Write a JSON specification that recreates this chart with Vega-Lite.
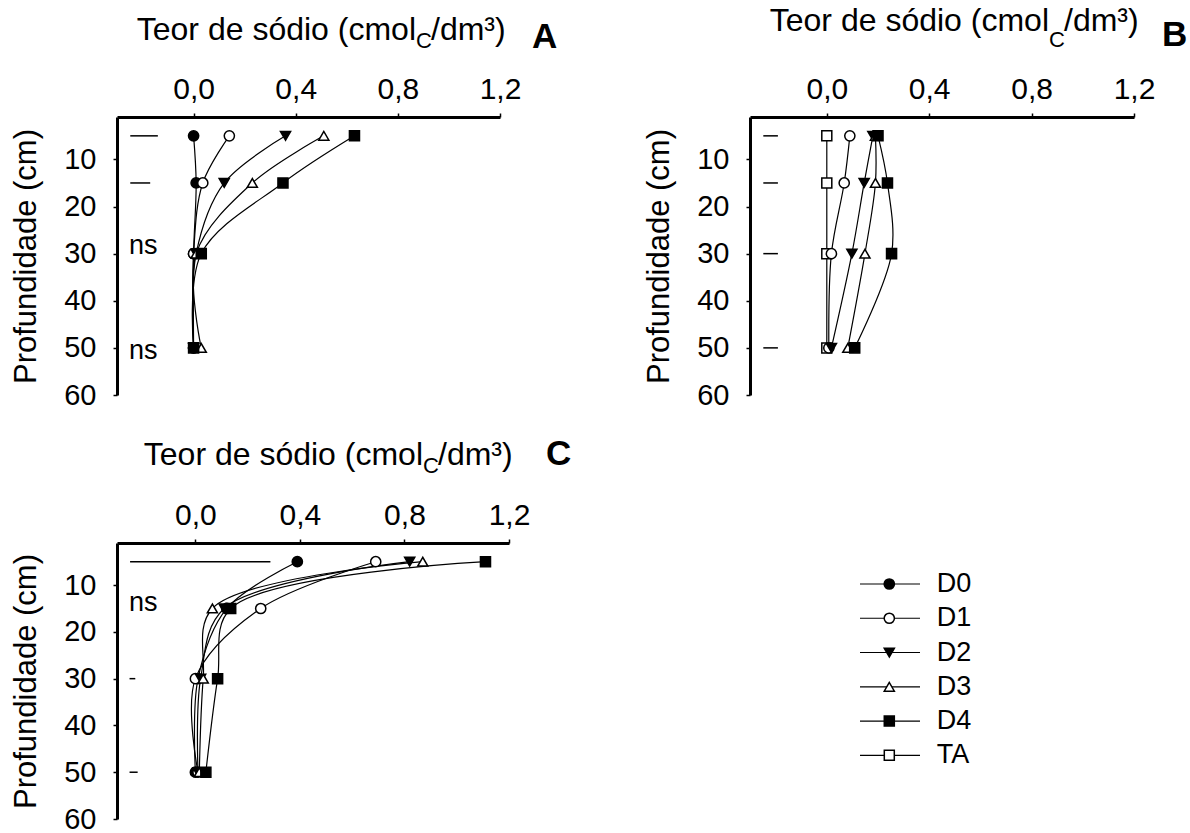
{
  "$schema": "https://vega.github.io/schema/vega-lite/v6.json",
  "padding": {"left": 10, "top": 5, "right": 2, "bottom": 2},
  "background": "white",
  "bounds": "flush",
  "columns": 2,
  "spacing": {"row": 148, "column": 241},
  "config": {
    "view": {"stroke": null},
    "font": "Liberation Sans",
    "text": {"color": "black"},
    "axis": {"domainColor": "black", "tickColor": "black", "labelColor": "black", "titleColor": "black", "grid": false, "labelFont": "Liberation Sans", "titleFont": "Liberation Sans"}
  },
  "datasets": {
    "A": [
      {"serie": "D0", "prof": 5, "teor": 0.0}, {"serie": "D0", "prof": 15, "teor": 0.01}, {"serie": "D0", "prof": 30, "teor": 0.0}, {"serie": "D0", "prof": 50, "teor": 0.0},
      {"serie": "D1", "prof": 5, "teor": 0.14}, {"serie": "D1", "prof": 15, "teor": 0.036}, {"serie": "D1", "prof": 30, "teor": 0.0}, {"serie": "D1", "prof": 50, "teor": 0.0},
      {"serie": "D2", "prof": 5, "teor": 0.36}, {"serie": "D2", "prof": 15, "teor": 0.12}, {"serie": "D2", "prof": 30, "teor": 0.01}, {"serie": "D2", "prof": 50, "teor": 0.0},
      {"serie": "D3", "prof": 5, "teor": 0.51}, {"serie": "D3", "prof": 15, "teor": 0.23}, {"serie": "D3", "prof": 30, "teor": 0.01}, {"serie": "D3", "prof": 50, "teor": 0.03},
      {"serie": "D4", "prof": 5, "teor": 0.63}, {"serie": "D4", "prof": 15, "teor": 0.35}, {"serie": "D4", "prof": 30, "teor": 0.03}, {"serie": "D4", "prof": 50, "teor": 0.0}
    ],
    "B": [
      {"serie": "TA", "prof": 5, "teor": 0.0}, {"serie": "TA", "prof": 15, "teor": 0.0}, {"serie": "TA", "prof": 30, "teor": 0.0}, {"serie": "TA", "prof": 50, "teor": 0.0},
      {"serie": "D1", "prof": 5, "teor": 0.09}, {"serie": "D1", "prof": 15, "teor": 0.068}, {"serie": "D1", "prof": 30, "teor": 0.018}, {"serie": "D1", "prof": 50, "teor": 0.008},
      {"serie": "D2", "prof": 5, "teor": 0.18}, {"serie": "D2", "prof": 15, "teor": 0.146}, {"serie": "D2", "prof": 30, "teor": 0.098}, {"serie": "D2", "prof": 50, "teor": 0.018},
      {"serie": "D3", "prof": 5, "teor": 0.19}, {"serie": "D3", "prof": 15, "teor": 0.19}, {"serie": "D3", "prof": 30, "teor": 0.149}, {"serie": "D3", "prof": 50, "teor": 0.082},
      {"serie": "D4", "prof": 5, "teor": 0.2}, {"serie": "D4", "prof": 15, "teor": 0.237}, {"serie": "D4", "prof": 30, "teor": 0.253}, {"serie": "D4", "prof": 50, "teor": 0.109}
    ],
    "C": [
      {"serie": "D0", "prof": 5, "teor": 0.39}, {"serie": "D0", "prof": 15, "teor": 0.12}, {"serie": "D0", "prof": 30, "teor": 0.01}, {"serie": "D0", "prof": 50, "teor": 0.0},
      {"serie": "D1", "prof": 5, "teor": 0.69}, {"serie": "D1", "prof": 15, "teor": 0.25}, {"serie": "D1", "prof": 30, "teor": 0.0}, {"serie": "D1", "prof": 50, "teor": 0.01},
      {"serie": "D2", "prof": 5, "teor": 0.82}, {"serie": "D2", "prof": 15, "teor": 0.11}, {"serie": "D2", "prof": 30, "teor": 0.02}, {"serie": "D2", "prof": 50, "teor": 0.01},
      {"serie": "D3", "prof": 5, "teor": 0.87}, {"serie": "D3", "prof": 15, "teor": 0.065}, {"serie": "D3", "prof": 30, "teor": 0.03}, {"serie": "D3", "prof": 50, "teor": 0.015},
      {"serie": "D4", "prof": 5, "teor": 1.11}, {"serie": "D4", "prof": 15, "teor": 0.135}, {"serie": "D4", "prof": 30, "teor": 0.085}, {"serie": "D4", "prof": 50, "teor": 0.04}
    ],
    "barrasA": [{"prof": 5, "teor": -0.248, "teor2": -0.14}, {"prof": 15, "teor": -0.248, "teor2": -0.17}],
    "barrasB": [{"prof": 5, "teor": -0.248, "teor2": -0.191}, {"prof": 15, "teor": -0.248, "teor2": -0.191}, {"prof": 30, "teor": -0.248, "teor2": -0.191}, {"prof": 50, "teor": -0.248, "teor2": -0.191}],
    "barrasC": [{"prof": 5, "teor": -0.25, "teor2": 0.287}, {"prof": 30, "teor": -0.252, "teor2": -0.23}, {"prof": 50, "teor": -0.252, "teor2": -0.221}],
    "notasA": [{"prof": 28.4, "teor": -0.253, "txt": "ns"}, {"prof": 50.7, "teor": -0.253, "txt": "ns"}],
    "notasC": [{"prof": 13.8, "teor": -0.254, "txt": "ns"}],
    "legenda": [{"serie": "D0"}, {"serie": "D1"}, {"serie": "D2"}, {"serie": "D3"}, {"serie": "D4"}, {"serie": "TA"}]
  },
  "concat": [
    {
      "width": 383,
      "height": 278,
      "layer": [
        {"data": {"name": "A"}, "mark": {"type": "line", "interpolate": "catmull-rom", "color": "black", "strokeWidth": 1.2},
          "encoding": {
            "x": {"field": "teor", "type": "quantitative", "scale": {"domain": [-0.3, 1.2], "nice": false, "zero": false},
              "axis": {"orient": "top", "values": [0, 0.4, 0.8, 1.2], "labelExpr": "replace(format(datum.value, '.1f'), '.', ',')", "title": null, "domainWidth": 3, "tickWidth": 1.5, "tickSize": 4, "labelFontSize": 30, "labelPadding": 9, "labelFlush": false, "labelOverlap": false}},
            "y": {"field": "prof", "type": "quantitative", "scale": {"domain": [1, 60], "reverse": true, "nice": false, "zero": false},
              "axis": {"values": [10, 20, 30, 40, 50, 60], "title": "Profundidade (cm)", "titleFontSize": 31, "titleFontWeight": "normal", "titlePadding": 21, "labelFontSize": 29, "labelPadding": 17, "tickSize": 4, "tickWidth": 1.5, "domainWidth": 3, "labelFlush": false, "labelOverlap": false}},
            "detail": {"field": "serie"}, "order": {"field": "prof", "type": "quantitative"}}},
        {"data": {"name": "A"}, "mark": {"type": "point", "filled": true, "stroke": "black", "strokeWidth": 1.5, "opacity": 1},
          "encoding": {
            "x": {"field": "teor", "type": "quantitative"},
            "y": {"field": "prof", "type": "quantitative"},
            "shape": {"field": "serie", "type": "nominal", "scale": {"domain": ["D0", "D1", "D2", "D3", "D4", "TA"], "range": ["circle", "circle", "triangle-down", "triangle-up", "square", "square"]}, "legend": null},
            "fill": {"field": "serie", "type": "nominal", "scale": {"domain": ["D0", "D1", "D2", "D3", "D4", "TA"], "range": ["black", "white", "black", "white", "black", "white"]}, "legend": null},
            "size": {"field": "serie", "type": "nominal", "scale": {"domain": ["D0", "D1", "D2", "D3", "D4", "TA"], "range": [105, 100, 170, 145, 125, 100]}, "legend": null}}},
        {"data": {"name": "barrasA"}, "mark": {"type": "rule", "color": "black", "strokeWidth": 1.5},
          "encoding": {"x": {"field": "teor", "type": "quantitative"}, "x2": {"field": "teor2"}, "y": {"field": "prof", "type": "quantitative"}}},
        {"data": {"name": "notasA"}, "mark": {"type": "text", "align": "left", "baseline": "middle", "fontSize": 27, "color": "black"},
          "encoding": {"x": {"field": "teor", "type": "quantitative"}, "y": {"field": "prof", "type": "quantitative"}, "text": {"field": "txt"}}},
        {"data": {"values": [{"t": "Teor de sódio (cmol"}]}, "mark": {"type": "text", "align": "right", "baseline": "alphabetic", "fontSize": 32, "color": "black", "clip": false},
          "encoding": {"x": {"datum": 0.871, "type": "quantitative"}, "y": {"datum": -15.34, "type": "quantitative"}, "text": {"field": "t"}}},
        {"data": {"values": [{"t": "C"}]}, "mark": {"type": "text", "align": "left", "baseline": "alphabetic", "fontSize": 22, "color": "black", "clip": false},
          "encoding": {"x": {"datum": 0.871, "type": "quantitative"}, "y": {"datum": -13.64, "type": "quantitative"}, "text": {"field": "t"}}},
        {"data": {"values": [{"t": "/dm³)"}]}, "mark": {"type": "text", "align": "left", "baseline": "alphabetic", "fontSize": 32, "dx": 15, "color": "black", "clip": false},
          "encoding": {"x": {"datum": 0.871, "type": "quantitative"}, "y": {"datum": -15.34, "type": "quantitative"}, "text": {"field": "t"}}},
        {"data": {"values": [{"t": "A"}]}, "mark": {"type": "text", "align": "left", "baseline": "alphabetic", "fontSize": 35, "fontWeight": "bold", "color": "black", "clip": false},
          "encoding": {"x": {"datum": 1.325, "type": "quantitative"}, "y": {"datum": -13.64, "type": "quantitative"}, "text": {"field": "t"}}}
      ]
    },
    {
      "width": 384,
      "height": 278,
      "layer": [
        {"data": {"name": "B"}, "mark": {"type": "line", "interpolate": "catmull-rom", "color": "black", "strokeWidth": 1.2},
          "encoding": {
            "x": {"field": "teor", "type": "quantitative", "scale": {"domain": [-0.3, 1.2], "nice": false, "zero": false},
              "axis": {"orient": "top", "values": [0, 0.4, 0.8, 1.2], "labelExpr": "replace(format(datum.value, '.1f'), '.', ',')", "title": null, "domainWidth": 3, "tickWidth": 1.5, "tickSize": 4, "labelFontSize": 30, "labelPadding": 9, "labelFlush": false, "labelOverlap": false}},
            "y": {"field": "prof", "type": "quantitative", "scale": {"domain": [1, 60], "reverse": true, "nice": false, "zero": false},
              "axis": {"values": [10, 20, 30, 40, 50, 60], "title": "Profundidade (cm)", "titleFontSize": 31, "titleFontWeight": "normal", "titlePadding": 21, "labelFontSize": 29, "labelPadding": 17, "tickSize": 4, "tickWidth": 1.5, "domainWidth": 3, "labelFlush": false, "labelOverlap": false}},
            "detail": {"field": "serie"}, "order": {"field": "prof", "type": "quantitative"}}},
        {"data": {"name": "B"}, "mark": {"type": "point", "filled": true, "stroke": "black", "strokeWidth": 1.5, "opacity": 1},
          "encoding": {
            "x": {"field": "teor", "type": "quantitative"},
            "y": {"field": "prof", "type": "quantitative"},
            "shape": {"field": "serie", "type": "nominal", "scale": {"domain": ["D0", "D1", "D2", "D3", "D4", "TA"], "range": ["circle", "circle", "triangle-down", "triangle-up", "square", "square"]}, "legend": null},
            "fill": {"field": "serie", "type": "nominal", "scale": {"domain": ["D0", "D1", "D2", "D3", "D4", "TA"], "range": ["black", "white", "black", "white", "black", "white"]}, "legend": null},
            "size": {"field": "serie", "type": "nominal", "scale": {"domain": ["D0", "D1", "D2", "D3", "D4", "TA"], "range": [105, 100, 170, 145, 125, 100]}, "legend": null}}},
        {"data": {"name": "barrasB"}, "mark": {"type": "rule", "color": "black", "strokeWidth": 1.5},
          "encoding": {"x": {"field": "teor", "type": "quantitative"}, "x2": {"field": "teor2"}, "y": {"field": "prof", "type": "quantitative"}}},
        {"data": {"values": [{"t": "Teor de sódio (cmol"}]}, "mark": {"type": "text", "align": "right", "baseline": "alphabetic", "fontSize": 32, "color": "black", "clip": false},
          "encoding": {"x": {"datum": 0.868, "type": "quantitative"}, "y": {"datum": -17.25, "type": "quantitative"}, "text": {"field": "t"}}},
        {"data": {"values": [{"t": "C"}]}, "mark": {"type": "text", "align": "left", "baseline": "alphabetic", "fontSize": 22, "color": "black", "clip": false},
          "encoding": {"x": {"datum": 0.868, "type": "quantitative"}, "y": {"datum": -13.9, "type": "quantitative"}, "text": {"field": "t"}}},
        {"data": {"values": [{"t": "/dm³)"}]}, "mark": {"type": "text", "align": "left", "baseline": "alphabetic", "fontSize": 32, "dx": 15, "color": "black", "clip": false},
          "encoding": {"x": {"datum": 0.868, "type": "quantitative"}, "y": {"datum": -17.25, "type": "quantitative"}, "text": {"field": "t"}}},
        {"data": {"values": [{"t": "B"}]}, "mark": {"type": "text", "align": "left", "baseline": "alphabetic", "fontSize": 35, "fontWeight": "bold", "color": "black", "clip": false},
          "encoding": {"x": {"datum": 1.309, "type": "quantitative"}, "y": {"datum": -14.07, "type": "quantitative"}, "text": {"field": "t"}}}
      ]
    },
    {
      "width": 392,
      "height": 276,
      "layer": [
        {"data": {"name": "C"}, "mark": {"type": "line", "interpolate": "catmull-rom", "color": "black", "strokeWidth": 1.2},
          "encoding": {
            "x": {"field": "teor", "type": "quantitative", "scale": {"domain": [-0.3, 1.2], "nice": false, "zero": false},
              "axis": {"orient": "top", "values": [0, 0.4, 0.8, 1.2], "labelExpr": "replace(format(datum.value, '.1f'), '.', ',')", "title": null, "domainWidth": 3, "tickWidth": 1.5, "tickSize": 4, "labelFontSize": 30, "labelPadding": 9, "labelFlush": false, "labelOverlap": false}},
            "y": {"field": "prof", "type": "quantitative", "scale": {"domain": [1, 60], "reverse": true, "nice": false, "zero": false},
              "axis": {"values": [10, 20, 30, 40, 50, 60], "title": "Profundidade (cm)", "titleFontSize": 31, "titleFontWeight": "normal", "titlePadding": 21, "labelFontSize": 29, "labelPadding": 17, "tickSize": 4, "tickWidth": 1.5, "domainWidth": 3, "labelFlush": false, "labelOverlap": false}},
            "detail": {"field": "serie"}, "order": {"field": "prof", "type": "quantitative"}}},
        {"data": {"name": "C"}, "mark": {"type": "point", "filled": true, "stroke": "black", "strokeWidth": 1.5, "opacity": 1},
          "encoding": {
            "x": {"field": "teor", "type": "quantitative"},
            "y": {"field": "prof", "type": "quantitative"},
            "shape": {"field": "serie", "type": "nominal", "scale": {"domain": ["D0", "D1", "D2", "D3", "D4", "TA"], "range": ["circle", "circle", "triangle-down", "triangle-up", "square", "square"]}, "legend": null},
            "fill": {"field": "serie", "type": "nominal", "scale": {"domain": ["D0", "D1", "D2", "D3", "D4", "TA"], "range": ["black", "white", "black", "white", "black", "white"]}, "legend": null},
            "size": {"field": "serie", "type": "nominal", "scale": {"domain": ["D0", "D1", "D2", "D3", "D4", "TA"], "range": [105, 100, 170, 145, 125, 100]}, "legend": null}}},
        {"data": {"name": "barrasC"}, "mark": {"type": "rule", "color": "black", "strokeWidth": 1.5},
          "encoding": {"x": {"field": "teor", "type": "quantitative"}, "x2": {"field": "teor2"}, "y": {"field": "prof", "type": "quantitative"}}},
        {"data": {"name": "notasC"}, "mark": {"type": "text", "align": "left", "baseline": "middle", "fontSize": 27, "color": "black"},
          "encoding": {"x": {"field": "teor", "type": "quantitative"}, "y": {"field": "prof", "type": "quantitative"}, "text": {"field": "txt"}}},
        {"data": {"values": [{"t": "Teor de sódio (cmol"}]}, "mark": {"type": "text", "align": "right", "baseline": "alphabetic", "fontSize": 32, "color": "black", "clip": false},
          "encoding": {"x": {"datum": 0.871, "type": "quantitative"}, "y": {"datum": -15.74, "type": "quantitative"}, "text": {"field": "t"}}},
        {"data": {"values": [{"t": "C"}]}, "mark": {"type": "text", "align": "left", "baseline": "alphabetic", "fontSize": 22, "color": "black", "clip": false},
          "encoding": {"x": {"datum": 0.871, "type": "quantitative"}, "y": {"datum": -13.96, "type": "quantitative"}, "text": {"field": "t"}}},
        {"data": {"values": [{"t": "/dm³)"}]}, "mark": {"type": "text", "align": "left", "baseline": "alphabetic", "fontSize": 32, "dx": 15, "color": "black", "clip": false},
          "encoding": {"x": {"datum": 0.871, "type": "quantitative"}, "y": {"datum": -15.74, "type": "quantitative"}, "text": {"field": "t"}}},
        {"data": {"values": [{"t": "C"}]}, "mark": {"type": "text", "align": "left", "baseline": "alphabetic", "fontSize": 35, "fontWeight": "bold", "color": "black", "clip": false},
          "encoding": {"x": {"datum": 1.342, "type": "quantitative"}, "y": {"datum": -15.67, "type": "quantitative"}, "text": {"field": "t"}}}
      ]
    },
    {
      "width": 200,
      "height": 253.3,
      "data": {"name": "legenda"},
      "layer": [
        {"mark": {"type": "rule", "color": "black", "strokeWidth": 1.2},
          "encoding": {
            "x": {"datum": 5.5, "type": "quantitative", "scale": {"domain": [0, 10], "nice": false, "zero": false}, "axis": null},
            "x2": {"datum": 8.5},
            "y": {"field": "serie", "type": "nominal", "scale": {"type": "point", "domain": ["D0", "D1", "D2", "D3", "D4", "TA"], "range": [41, 212.3], "padding": 0}, "axis": null}}},
        {"mark": {"type": "point", "filled": true, "stroke": "black", "strokeWidth": 1.5, "opacity": 1},
          "encoding": {
            "x": {"datum": 6.965, "type": "quantitative"},
            "y": {"field": "serie", "type": "nominal"},
            "shape": {"field": "serie", "type": "nominal", "scale": {"domain": ["D0", "D1", "D2", "D3", "D4", "TA"], "range": ["circle", "circle", "triangle-down", "triangle-up", "square", "square"]}, "legend": null},
            "fill": {"field": "serie", "type": "nominal", "scale": {"domain": ["D0", "D1", "D2", "D3", "D4", "TA"], "range": ["black", "white", "black", "white", "black", "white"]}, "legend": null},
            "size": {"field": "serie", "type": "nominal", "scale": {"domain": ["D0", "D1", "D2", "D3", "D4", "TA"], "range": [105, 100, 170, 145, 125, 100]}, "legend": null}}},
        {"mark": {"type": "text", "align": "left", "baseline": "middle", "fontSize": 27, "color": "black"},
          "encoding": {"x": {"datum": 9.335, "type": "quantitative"}, "y": {"field": "serie", "type": "nominal"}, "text": {"field": "serie"}}}
      ]
    }
  ]
}
